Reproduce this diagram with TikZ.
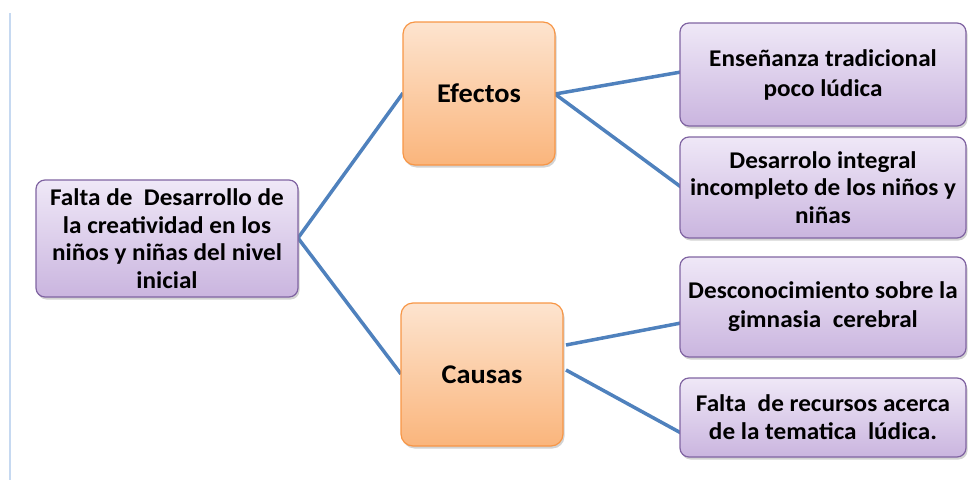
\documentclass[tikz,border=0pt]{standalone}
\usepackage{fontspec}
\setmainfont[FakeStretch=1.05]{Carlito}
\usetikzlibrary{shadows}
\definecolor{lineblue}{HTML}{4F81BD}
\definecolor{purpborder}{HTML}{8064A2}
\definecolor{purptop}{HTML}{EFE8F7}
\definecolor{purpbot}{HTML}{CAB5DF}
\definecolor{orborder}{HTML}{F79646}
\definecolor{ortop}{HTML}{FDE4CF}
\definecolor{orbot}{HTML}{FAB57C}
\definecolor{leftrule}{HTML}{C6D9F1}
\tikzset{
  purplebox/.style={draw=purpborder, line width=1.2pt, rounded corners=9pt,
    top color=purptop, bottom color=purpbot, align=center,
    font=\fontsize{24}{27.5}\selectfont\bfseries, inner sep=1pt,
    drop shadow={shadow xshift=1.5pt, shadow yshift=-2.5pt, opacity=0.35}},
  orangebox/.style={draw=orborder, line width=1.2pt, rounded corners=12pt,
    top color=ortop, bottom color=orbot, align=center,
    font=\fontsize{27}{30}\selectfont\bfseries, inner sep=2pt,
    drop shadow={shadow xshift=1.5pt, shadow yshift=-2.5pt, opacity=0.35}},
  conn/.style={draw=lineblue, line width=3.5pt}
}
\begin{document}
\begin{tikzpicture}[x=1pt,y=-1pt]
\useasboundingbox (0,0) rectangle (975,482);
\draw[leftrule, line width=1.5pt] (10,13) -- (10,480);
% connectors (drawn first, behind boxes)
\coordinate (mE) at (298,238);
\coordinate (efW) at (403,93);
\coordinate (efE) at (555,94);
\coordinate (caW) at (401,374);
\coordinate (caE1) at (566,345);
\coordinate (caE2) at (566,370);
\coordinate (ensW) at (681,72);
\coordinate (desW) at (681,187);
\coordinate (gimW) at (681,323);
\coordinate (recW) at (681,433);
\draw[conn] (efW) -- (mE) -- (caW);
\draw[conn] (ensW) -- (efE) -- (desW);
\draw[conn] (caE1) -- (gimW);
\draw[conn] (caE2) -- (recW);
% boxes
\node[purplebox, minimum width=262pt, minimum height=117pt] (main) at (167,238.5)
  {Falta de \ Desarrollo de\\la creatividad en los\\niños y niñas del nivel\\inicial};
\node[orangebox, minimum width=152pt, minimum height=143pt] (ef) at (479,93.5) {Efectos};
\node[orangebox, minimum width=162pt, minimum height=143pt] (ca) at (482,374.5) {Causas};
\node[purplebox, minimum width=286pt, minimum height=103pt, font=\fontsize{24}{30}\selectfont\bfseries] (ens) at (823,74.5)
  {Enseñanza tradicional\\poco lúdica};
\node[purplebox, minimum width=286pt, minimum height=101pt] (des) at (823,187.5)
  {Desarrolo integral\\incompleto de los niños y\\niñas};
\node[purplebox, minimum width=286pt, minimum height=100pt, font=\fontsize{24}{29}\selectfont\bfseries] (gim) at (823,307)
  {Desconocimiento sobre la\\gimnasia \ cerebral};
\node[purplebox, minimum width=286pt, minimum height=79pt, font=\fontsize{24}{28}\selectfont\bfseries] (rec) at (823,417.5)
  {Falta \ de recursos acerca\\de la tematica \ lúdica.};
\end{tikzpicture}
\end{document}
